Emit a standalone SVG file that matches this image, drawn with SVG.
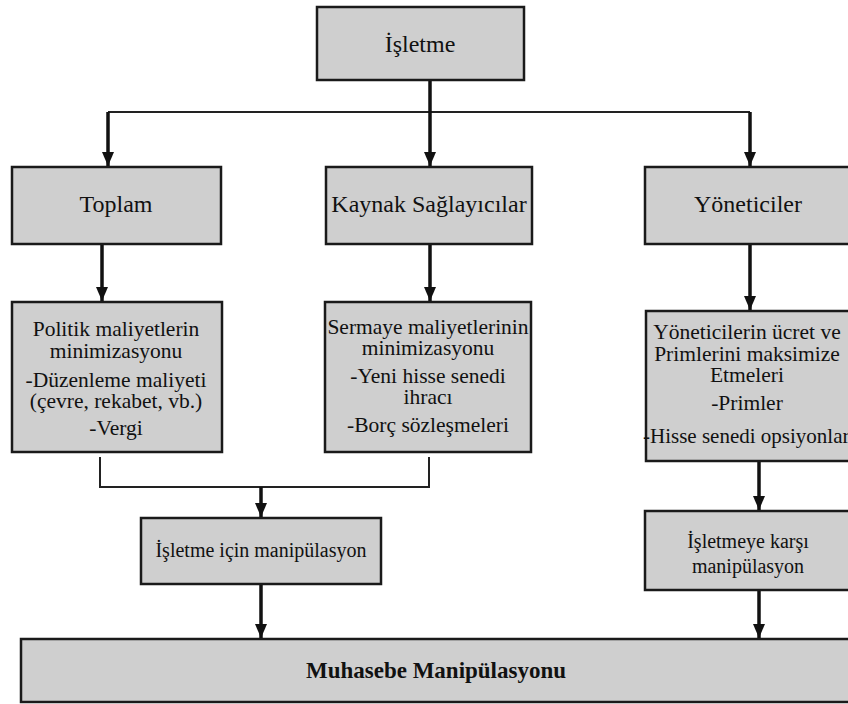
<svg xmlns="http://www.w3.org/2000/svg" width="848" height="704" viewBox="0 0 848 704">
<style>
.box{fill:#cfcfcf;stroke:#1a1a1a;stroke-width:2.5}
text{font-family:"Liberation Serif","Times New Roman",serif;fill:#111;text-anchor:middle}
.t24{font-size:24px}
.t22{font-size:21.5px}
.t20{font-size:20px}
.b{font-size:23px;font-weight:bold}
.arr{stroke:#111;stroke-width:3.5;fill:none;marker-end:url(#ah)}
.thin{stroke:#222;stroke-width:2;fill:none}
</style>
<defs>
<marker id="ah" viewBox="0 0 14 12" refX="14" refY="6" markerWidth="14" markerHeight="12" markerUnits="userSpaceOnUse" orient="auto">
<path d="M0,0 L14,6 L0,12 Z" fill="#111"/>
</marker>
</defs>
<rect width="848" height="704" fill="#fff"/>
<g id="connectors">
<path class="thin" d="M108,112 H750"/>
<path class="thin" d="M100,457 V487 H429 V457"/>
<line class="arr" x1="430" y1="80" x2="430" y2="166"/>
<line class="arr" x1="108" y1="112" x2="108" y2="166"/>
<line class="arr" x1="750" y1="112" x2="750" y2="166"/>
<line class="arr" x1="102" y1="244" x2="102" y2="301"/>
<line class="arr" x1="430" y1="244" x2="430" y2="301"/>
<line class="arr" x1="750" y1="244" x2="750" y2="310"/>
<line class="arr" x1="261" y1="487" x2="261" y2="517"/>
<line class="arr" x1="261" y1="584" x2="261" y2="638"/>
<line class="arr" x1="759" y1="461" x2="759" y2="510"/>
<line class="arr" x1="759" y1="590" x2="759" y2="638"/>
</g>
<g id="isletme"><rect class="box" x="317" y="7" width="207" height="73"/><text class="t24" x="420" y="52">İşletme</text></g>
<g id="toplam"><rect class="box" x="12" y="167" width="209" height="77"/><text class="t24" x="116" y="212">Toplam</text></g>
<g id="kaynak"><rect class="box" x="326" y="167" width="206" height="77"/><text class="t24" x="429" y="212">Kaynak Sağlayıcılar</text></g>
<g id="yoneticiler"><rect class="box" x="645" y="167" width="206" height="77"/><text class="t24" x="748" y="212">Yöneticiler</text></g>
<g id="politik"><rect class="box" x="12" y="302" width="210" height="150"/>
<text class="t22" x="116" y="336">Politik maliyetlerin</text>
<text class="t22" x="116" y="358">minimizasyonu</text>
<text class="t22" x="116" y="387">-Düzenleme maliyeti</text>
<text class="t22" x="116" y="408">(çevre, rekabet, vb.)</text>
<text class="t22" x="116" y="435">-Vergi</text></g>
<g id="sermaye"><rect class="box" x="325" y="302" width="206" height="150"/>
<text class="t22" x="428" y="334">Sermaye maliyetlerinin</text>
<text class="t22" x="428" y="355">minimizasyonu</text>
<text class="t22" x="428" y="383">-Yeni hisse senedi</text>
<text class="t22" x="428" y="404">ihracı</text>
<text class="t22" x="428" y="432">-Borç sözleşmeleri</text></g>
<g id="yoneticilerin"><rect class="box" x="646" y="311" width="205" height="150"/>
<text class="t22" x="747" y="339">Yöneticilerin ücret ve</text>
<text class="t22" x="747" y="361">Primlerini maksimize</text>
<text class="t22" x="747" y="382">Etmeleri</text>
<text class="t22" x="747" y="410">-Primler</text>
<text class="t22" x="643" y="443" style="font-size:21px;text-anchor:start">-Hisse senedi opsiyonları</text></g>
<g id="isletme-icin"><rect class="box" x="141" y="518" width="240" height="66"/><text class="t20" x="261" y="557">İşletme için manipülasyon</text></g>
<g id="isletmeye-karsi"><rect class="box" x="645" y="511" width="206" height="79"/>
<text class="t20" x="748" y="548">İşletmeye karşı</text>
<text class="t20" x="748" y="573">manipülasyon</text></g>
<g id="muhasebe"><rect class="box" x="21" y="639" width="830" height="63"/><text class="b" x="436" y="678">Muhasebe Manipülasyonu</text></g>
</svg>
